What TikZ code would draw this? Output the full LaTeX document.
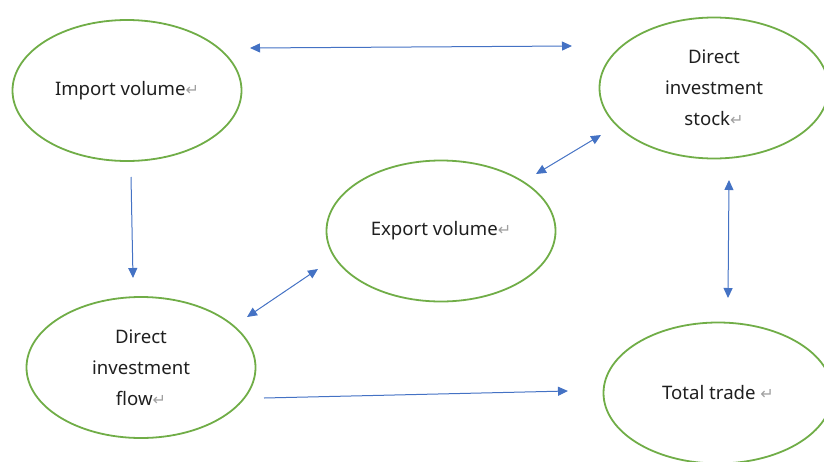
\documentclass[tikz,border=0pt]{standalone}
\usepackage{fontspec}
\setmainfont{Noto Sans}
\newfontfamily\markfont{DejaVu Sans}
\usepackage{xcolor}
\usepackage{tikz}
\usetikzlibrary{shapes.geometric}
\usetikzlibrary{arrows.meta}
\definecolor{ovalgreen}{HTML}{70AD47}
\definecolor{linkblue}{HTML}{4472C4}
\definecolor{markgray}{HTML}{A0A0A0}
\newcommand{\pmark}{{\markfont\color{markgray}\footnotesize ↵}}
\tikzset{
  oval/.style={ellipse, draw=ovalgreen, line width=0.9pt, minimum width=114.5pt,
    minimum height=70.5pt, align=center, text=black!88,
    font=\fontsize{9.3pt}{15.5pt}\selectfont},
  link/.style={linkblue, line width=0.5pt, -{Triangle[length=5pt,width=4.5pt]}},
  twoway/.style={link, {Triangle[length=5pt,width=4.5pt]}-{Triangle[length=5pt,width=4.5pt]}}
}
\begin{document}
\begin{tikzpicture}[x=0.5pt,y=-0.5pt]
    \useasboundingbox (0,0) rectangle (824,461);
    \node[oval] (imp) at (127,90.5) {Import volume\pmark};
    \node[oval] (stk) at (714,88) {Direct\\investment\\stock\pmark};
    \node[oval] (exp) at (441,231) {Export volume\pmark};
    \node[oval] (flw) at (141,367.5) {Direct\\investment\\flow\pmark};
    \node[oval] (tot) at (718,393) {Total trade \pmark};
    % arrow ends
    \coordinate (imp-e) at (250,48);
    \coordinate (stk-w) at (572,46);
    \coordinate (imp-s) at (131,177);
    \coordinate (flw-n) at (133,278);
    \coordinate (flw-ne) at (247,317);
    \coordinate (exp-sw) at (318,269);
    \coordinate (exp-ne) at (536,174);
    \coordinate (stk-sw) at (601,135);
    \coordinate (stk-s) at (729,180);
    \coordinate (tot-n) at (728,298);
    \coordinate (flw-e) at (264,398);
    \coordinate (tot-w) at (568,391);
    \draw[twoway] (imp-e) -- (stk-w);
    \draw[link] (imp-s) -- (flw-n);
    \draw[twoway] (flw-ne) -- (exp-sw);
    \draw[twoway] (exp-ne) -- (stk-sw);
    \draw[twoway] (stk-s) -- (tot-n);
    \draw[link] (flw-e) -- (tot-w);
\end{tikzpicture}
\end{document}
